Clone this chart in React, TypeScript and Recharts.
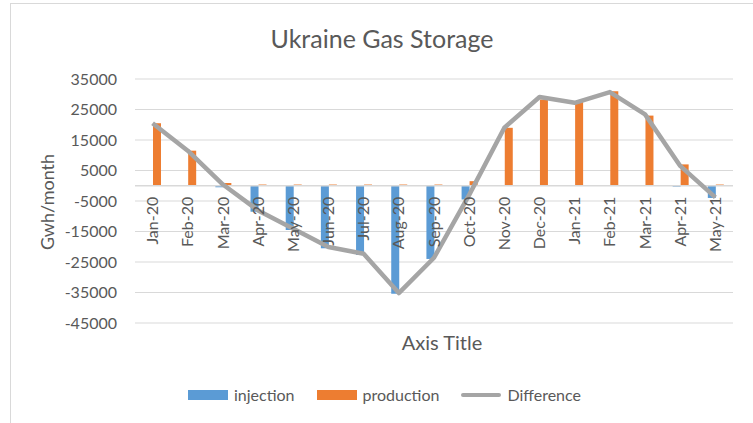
import React from "react";
import {
  ComposedChart,
  Bar,
  Line,
  XAxis,
  YAxis,
  CartesianGrid,
  ReferenceLine,
  Legend,
} from "recharts";

const months = [
  "Jan-20", "Feb-20", "Mar-20", "Apr-20", "May-20", "Jun-20", "Jul-20", "Aug-20", "Sep-20",
  "Oct-20", "Nov-20", "Dec-20", "Jan-21", "Feb-21", "Mar-21", "Apr-21", "May-21",
];
const injection = [0, 0, -500, -8500, -14500, -20500, -22700, -35400, -24000, -4500, 0, 0, 0, 0, 0, -300, -4000];
const production = [20500, 11500, 900, 400, 400, 400, 400, 400, 400, 1500, 19000, 28300, 27500, 31000, 23000, 7000, 400];
const difference = [20500, 11500, 400, -8100, -14100, -20100, -22300, -35200, -23600, -3000, 19000, 29100, 27200, 30700, 23400, 6500, -3800];
const yTicks = [35000, 25000, 15000, 5000, -5000, -15000, -25000, -35000, -45000];
const legendOrder = ["injection", "production", "Difference"];

const data = months.map((m, i) => ({
  month: m,
  injection: injection[i],
  production: production[i],
  Difference: difference[i],
}));

const FONT = "Lato, 'Open Sans', sans-serif";
const TEXT = "#595959";
const GRID = "#d9d9d9";

const W = 753;
const H = 423;
const margin = { top: 79, right: 20, bottom: 70, left: 10 };
const X_AXIS_H = 30;
const Y_MIN = -45000;
const Y_MAX = 35000;
const plotH = H - margin.top - margin.bottom - X_AXIS_H;
// Excel puts the category labels next to the zero line, not at the bottom
const zeroY = margin.top + (plotH * Y_MAX) / (Y_MAX - Y_MIN);

const MonthTick = ({ x, payload }: any) => {
  const y = zeroY + 11;
  return (
    <text
      x={x}
      y={y}
      transform={`rotate(-90, ${x}, ${y})`}
      textAnchor="end"
      dy="0.35em"
      fill={TEXT}
      fontSize={16}
      fontFamily={FONT}
    >
      {payload.value}
    </text>
  );
};

const renderLegend = ({ payload }: any) => {
  const items = [...(payload || [])].sort(
    (a: any, b: any) => legendOrder.indexOf(a.value) - legendOrder.indexOf(b.value)
  );
  return (
    <div
      style={{
        display: "flex",
        justifyContent: "center",
        alignItems: "center",
        gap: 22,
        fontFamily: FONT,
        fontSize: 16,
        color: TEXT,
      }}
    >
      {items.map((entry: any) => (
        <div key={entry.value} style={{ display: "flex", alignItems: "center", gap: 6 }}>
          {entry.type === "line" ? (
            <span style={{ width: 40, height: 4, borderRadius: 2, background: entry.color }} />
          ) : (
            <span style={{ width: 40, height: 10, background: entry.color }} />
          )}
          <span>{entry.value}</span>
        </div>
      ))}
    </div>
  );
};

export default function App() {
  return (
    <div
      style={{
        position: "absolute",
        left: 0,
        top: 0,
        width: W,
        height: H,
        overflow: "hidden",
        background: "#fff",
        fontFamily: FONT,
      }}
    >
      {/* chart frame, only top and left edges are visible */}
      <div
        style={{
          position: "absolute",
          left: 10,
          top: 3,
          width: 800,
          height: 500,
          border: `1.5px solid ${GRID}`,
        }}
      />

      <ComposedChart width={W} height={H} data={data} margin={margin} barGap={0}>
        <CartesianGrid vertical={false} stroke={GRID} strokeWidth={1.2} />
        <XAxis
          dataKey="month"
          height={X_AXIS_H}
          interval={0}
          axisLine={false}
          tickLine={false}
          tick={<MonthTick />}
        />
        <YAxis
          width={125}
          domain={[Y_MIN, Y_MAX]}
          ticks={yTicks}
          axisLine={false}
          tickLine={false}
          tickSize={6}
          tickMargin={12}
          tick={{ fill: TEXT, fontSize: 16, fontFamily: FONT }}
        />
        <ReferenceLine y={0} stroke={GRID} strokeWidth={1.5} />
        <Legend
          layout="horizontal"
          verticalAlign="middle"
          align="center"
          content={renderLegend}
          wrapperStyle={{ position: "absolute", top: 385, left: 16, width: 737 }}
        />
        <Bar dataKey="injection" fill="#5b9bd5" barSize={8} isAnimationActive={false} />
        <Bar dataKey="production" fill="#ed7d31" barSize={8} isAnimationActive={false} />
        <Line
          type="linear"
          dataKey="Difference"
          stroke="#a5a5a5"
          strokeWidth={4.5}
          strokeLinejoin="round"
          dot={false}
          activeDot={false}
          legendType="line"
          isAnimationActive={false}
        />
      </ComposedChart>

      <div
        style={{
          position: "absolute",
          left: 382,
          top: 38,
          transform: "translate(-50%, -50%)",
          fontSize: 25,
          lineHeight: 1,
          color: TEXT,
          whiteSpace: "nowrap",
        }}
      >
        Ukraine Gas Storage
      </div>
      <div
        style={{
          position: "absolute",
          left: 47,
          top: 202,
          transform: "translate(-50%, -50%) rotate(-90deg)",
          fontSize: 18,
          lineHeight: 1,
          color: TEXT,
          whiteSpace: "nowrap",
        }}
      >
        Gwh/month
      </div>
      <div
        style={{
          position: "absolute",
          left: 442,
          top: 342,
          transform: "translate(-50%, -50%)",
          fontSize: 20,
          lineHeight: 1,
          color: TEXT,
          whiteSpace: "nowrap",
        }}
      >
        Axis Title
      </div>
    </div>
  );
}
